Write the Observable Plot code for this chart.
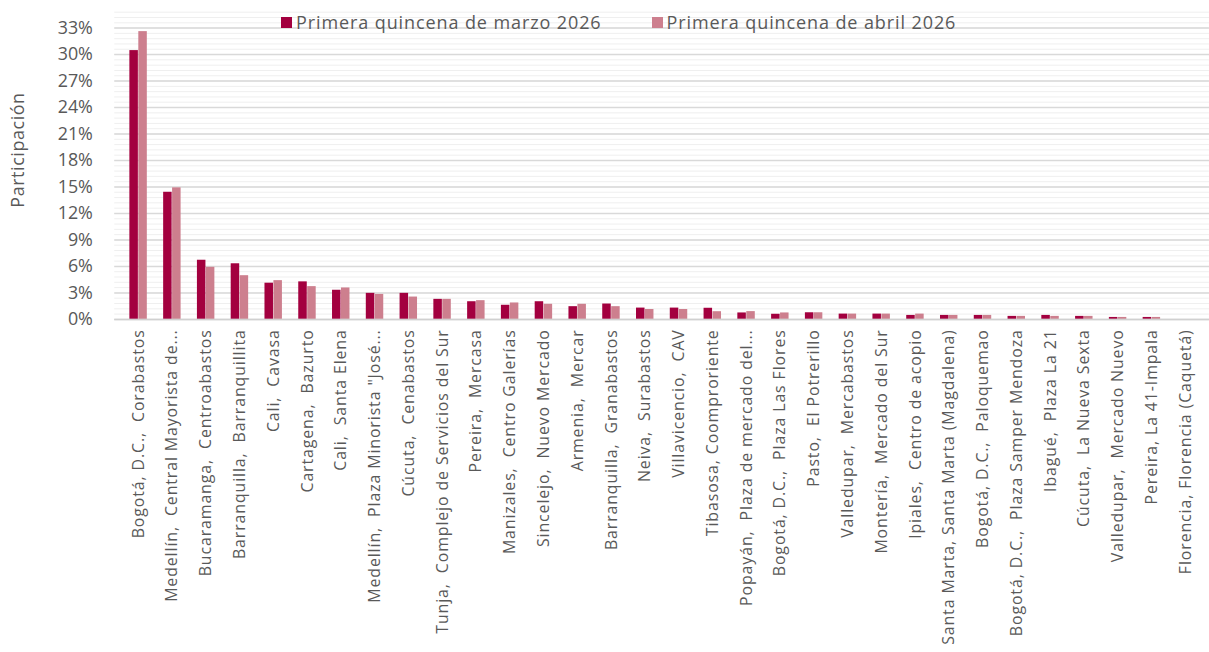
<!DOCTYPE html>
<html>
<head>
<meta charset="utf-8">
<script src="https://cdn.jsdelivr.net/npm/d3@7"></script>
<script src="https://cdn.jsdelivr.net/npm/@observablehq/plot@0.6"></script>
<style>
  html, body { margin: 0; padding: 0; background: #fff; overflow: hidden; }
  #wrap { position: relative; width: 1209px; height: 652px; overflow: hidden; }
  #wrap svg text { white-space: pre; }
  #wrap svg g[aria-label="x-axis tick label"] text { letter-spacing: 0.9px; }
  #wrap svg g.ytitle text { letter-spacing: 0.6px; }
  .legend { position: absolute; top: 11px; left: 281px; display: flex; align-items: center;
            font-family: "Open Sans", sans-serif; font-size: 18px; letter-spacing: 0.9px; color: #595959; line-height: 22px; white-space: nowrap; }
  .legend .sw { display: inline-block; width: 11px; height: 11px; margin-right: 4px; }
  .legend .item { display: flex; align-items: center; }
</style>
</head>
<body>
<div id="wrap"></div>
<script>
const categories = [
  "Bogotá, D.C.,  Corabastos",
  "Medellín,  Central Mayorista de...",
  "Bucaramanga,  Centroabastos",
  "Barranquilla,  Barranquillita",
  "Cali,  Cavasa",
  "Cartagena,  Bazurto",
  "Cali,  Santa Elena",
  "Medellín,  Plaza Minorista \"José...",
  "Cúcuta,  Cenabastos",
  "Tunja,  Complejo de Servicios del Sur",
  "Pereira,  Mercasa",
  "Manizales,  Centro Galerías",
  "Sincelejo,  Nuevo Mercado",
  "Armenia,  Mercar",
  "Barranquilla,  Granabastos",
  "Neiva,  Surabastos",
  "Villavicencio,  CAV",
  "Tibasosa, Coomproriente",
  "Popayán,  Plaza de mercado del...",
  "Bogotá, D.C.,  Plaza Las Flores",
  "Pasto,  El Potrerillo",
  "Valledupar,  Mercabastos",
  "Montería,  Mercado del Sur",
  "Ipiales,  Centro de acopio",
  "Santa Marta, Santa Marta (Magdalena)",
  "Bogotá, D.C.,  Paloquemao",
  "Bogotá, D.C.,  Plaza Samper Mendoza",
  "Ibagué,  Plaza La 21",
  "Cúcuta,  La Nueva Sexta",
  "Valledupar,  Mercado Nuevo",
  "Pereira, La 41-Impala",
  "Florencia, Florencia (Caquetá)"
];
const seriesNames = ["Primera quincena de marzo 2026", "Primera quincena de abril 2026"];
const marzo = [30.45, 14.4, 6.7, 6.3, 4.1, 4.25, 3.3, 2.95, 2.95, 2.27, 2.0, 1.6, 2.0, 1.44, 1.74, 1.28, 1.28, 1.26, 0.73, 0.58, 0.75, 0.6, 0.6, 0.45, 0.45, 0.45, 0.34, 0.45, 0.34, 0.22, 0.22, 0];
const abril = [32.6, 14.9, 5.9, 4.95, 4.39, 3.71, 3.56, 2.83, 2.53, 2.27, 2.12, 1.86, 1.71, 1.71, 1.44, 1.12, 1.12, 0.87, 0.88, 0.73, 0.75, 0.6, 0.6, 0.6, 0.45, 0.45, 0.34, 0.34, 0.34, 0.22, 0.22, 0];
const yTicks = [0, 3, 6, 9, 12, 15, 18, 21, 24, 27, 30, 33];
const colors = ["#A3003F", "#CD7F8E"];

const dataM = categories.map((c, i) => ({cat: c, v: marzo[i]}));
const dataA = categories.map((c, i) => ({cat: c, v: abril[i]}));
const minorTicks = d3.range(0, 35.01, 0.6);

const W = 1217, ML = 115, MR = 0;
const band = (W - ML - MR) / categories.length;
const barW = 9;
const FONT = "'Open Sans', sans-serif";

const chart = Plot.plot({
  width: W,
  height: 652,
  marginLeft: ML,
  marginRight: MR,
  marginTop: 10,
  marginBottom: 331,
  style: {fontFamily: FONT, color: "#595959", background: "#fff"},
  x: {type: "band", domain: categories, padding: 0},
  y: {domain: [0, 35]},
  marks: [
    Plot.ruleY(minorTicks, {stroke: "#efefef", strokeWidth: 1}),
    Plot.ruleY(yTicks, {stroke: "#d9d9d9", strokeWidth: 1.5}),
    Plot.barY(dataM, {x: "cat", y: "v", fill: colors[0], insetLeft: band / 2 - barW, insetRight: band / 2}),
    Plot.barY(dataA, {x: "cat", y: "v", fill: colors[1], insetLeft: band / 2, insetRight: band / 2 - barW}),
    Plot.ruleY([0], {stroke: "#d0d0d0", strokeWidth: 1.5}),
    Plot.axisY({ticks: yTicks, tickFormat: d => d + "%", tickSize: 0, tickPadding: 22, fontSize: 18, fill: "#595959", label: null}),
    Plot.axisX({tickRotate: -90, tickSize: 0, tickPadding: 10, fontSize: 16, fill: "#595959", label: null}),
    Plot.text(["Participación"], {frameAnchor: "left", textAnchor: "middle", rotate: -90, dx: -97, dy: -15, fontSize: 18, fill: "#595959", className: "ytitle"})
  ]
});
const wrap = document.getElementById("wrap");
wrap.appendChild(chart);

const legend = document.createElement("div");
legend.className = "legend";
seriesNames.forEach((name, i) => {
  const item = document.createElement("span");
  item.className = "item";
  if (i > 0) item.style.marginLeft = "50px";
  const sw = document.createElement("span");
  sw.className = "sw";
  sw.style.background = colors[i];
  item.appendChild(sw);
  item.appendChild(document.createTextNode(name));
  legend.appendChild(item);
});
wrap.appendChild(legend);
</script>
</body>
</html>
